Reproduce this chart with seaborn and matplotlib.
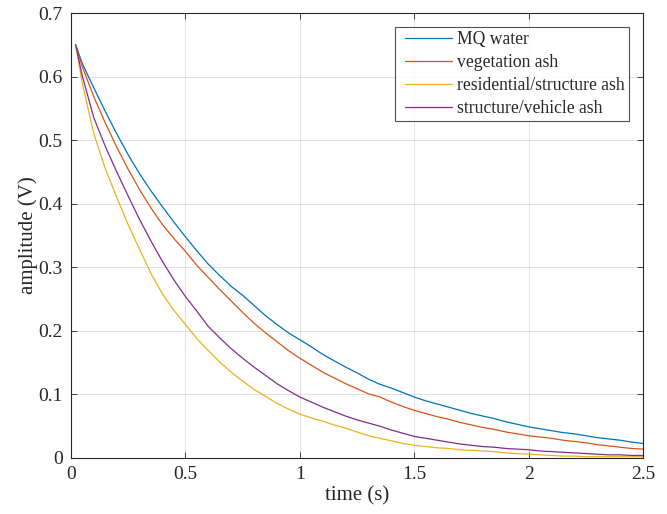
import numpy as np
import pandas as pd
import matplotlib
matplotlib.use("Agg")
import matplotlib.pyplot as plt
from matplotlib.lines import Line2D
from matplotlib.legend_handler import HandlerLine2D
import seaborn as sns

time_s = [0.02, 0.05, 0.10, 0.15, 0.20, 0.25, 0.30, 0.35, 0.40, 0.45, 0.50,
          0.55, 0.60, 0.65, 0.70, 0.75, 0.80, 0.85, 0.90, 0.95, 1.00,
          1.05, 1.10, 1.15, 1.20, 1.25, 1.30, 1.35, 1.40, 1.45, 1.50,
          1.55, 1.60, 1.65, 1.70, 1.75, 1.80, 1.85, 1.90, 1.95, 2.00,
          2.05, 2.10, 2.15, 2.20, 2.25, 2.30, 2.35, 2.40, 2.45, 2.50]

mq_water = [.650, .620, .582, .545, .510, .477, .447, .420, .395, .371, .348,
            .326, .305, .287, .270, .256, .240, .224, .210, .197, .186,
            .175, .163, .153, .143, .134, .124, .116, .110, .103, .096,
            .090, .085, .080, .075, .070, .066, .062, .057, .053, .049,
            .046, .043, .040, .038, .035, .032, .030, .028, .025, .023]

vegetation_ash = [.650, .615, .568, .527, .489, .454, .422, .393, .367, .345, .325,
                  .303, .284, .265, .247, .229, .212, .197, .183, .169, .157,
                  .146, .135, .126, .117, .109, .101, .096, .088, .081, .075,
                  .070, .065, .061, .056, .052, .048, .045, .041, .038, .035,
                  .033, .031, .028, .026, .024, .021, .019, .017, .015, .014]

residential_ash = [.650, .588, .510, .455, .410, .367, .328, .290, .258, .232, .210,
                   .188, .169, .151, .135, .121, .108, .097, .086, .077, .069,
                   .063, .058, .052, .047, .041, .035, .031, .027, .023, .020,
                   .018, .016, .015, .013, .012, .011, .010, .008, .007, .006,
                   .005, .004, .003, .003, .002, .002, .002, .002, .002, .002]

vehicle_ash = [.650, .600, .535, .490, .450, .412, .375, .341, .309, .280, .254,
               .231, .207, .189, .172, .157, .143, .130, .117, .106, .096,
               .088, .080, .073, .066, .060, .055, .050, .044, .039, .034,
               .031, .028, .025, .022, .020, .018, .017, .015, .014, .013,
               .011, .010, .009, .008, .007, .006, .005, .005, .004, .004]

series_names = ["MQ water", "vegetation ash", "residential/structure ash",
                "structure/vehicle ash"]
series_values = [mq_water, vegetation_ash, residential_ash, vehicle_ash]
colors = ["#0072BD", "#D95319", "#EDB120", "#7E2F8E"]

x_ticks = [0, 0.5, 1, 1.5, 2, 2.5]
x_tick_labels = ["0", "0.5", "1", "1.5", "2", "2.5"]
y_ticks = [0, 0.1, 0.2, 0.3, 0.4, 0.5, 0.6, 0.7]
y_tick_labels = ["0", "0.1", "0.2", "0.3", "0.4", "0.5", "0.6", "0.7"]

frames = []
for name, vals in zip(series_names, series_values):
    frames.append(pd.DataFrame({"time": time_s, "amplitude": vals, "series": name}))
df = pd.concat(frames, ignore_index=True)

sns.set_theme(style="white")
plt.rcParams["font.family"] = ["Liberation Serif", "DejaVu Serif"]

fig = plt.figure(figsize=(6.67, 5.14), dpi=100)
ax = fig.add_axes([71 / 667, 1 - 458 / 514, (643 - 71) / 667, (458 - 13) / 514])

sns.lineplot(data=df, x="time", y="amplitude", hue="series", hue_order=series_names,
             palette=colors, linewidth=0.9, ax=ax, legend=True)

ax.set_xlim(0, 2.5)
ax.set_ylim(0, 0.7)
ax.set_xticks(x_ticks)
ax.set_xticklabels(x_tick_labels)
ax.set_yticks(y_ticks)
ax.set_yticklabels(y_tick_labels)
ax.grid(True, color="#262626", alpha=0.15, linewidth=0.6)
ax.set_axisbelow(True)
for s in ax.spines.values():
    s.set_visible(True)
    s.set_color("#262626")
    s.set_linewidth(0.8)
ax.tick_params(direction="in", length=4, width=0.6, colors="#262626",
               labelsize=14, labelcolor="#262626", top=True, right=True,
               bottom=True, left=True, pad=6)
ax.set_xlabel("time (s)", fontsize=15, color="#262626", labelpad=2)
ax.set_ylabel("amplitude (V)", fontsize=15, color="#262626", labelpad=0)

handles, labels = ax.get_legend_handles_labels()
leg = ax.legend(handles, labels, loc="upper right", bbox_to_anchor=(0.9755, 0.9685),
                borderaxespad=0, fontsize=12.7, frameon=True, fancybox=False,
                handlelength=2.95, handletextpad=0.3, labelspacing=0.33, borderpad=0.25,
                handler_map={Line2D: HandlerLine2D(xpad=0.3)})
leg.get_frame().set_edgecolor("#262626")
leg.get_frame().set_linewidth(0.8)
for line in leg.get_lines():
    line.set_linewidth(0.9)

fig.savefig("out.png", dpi=100)
